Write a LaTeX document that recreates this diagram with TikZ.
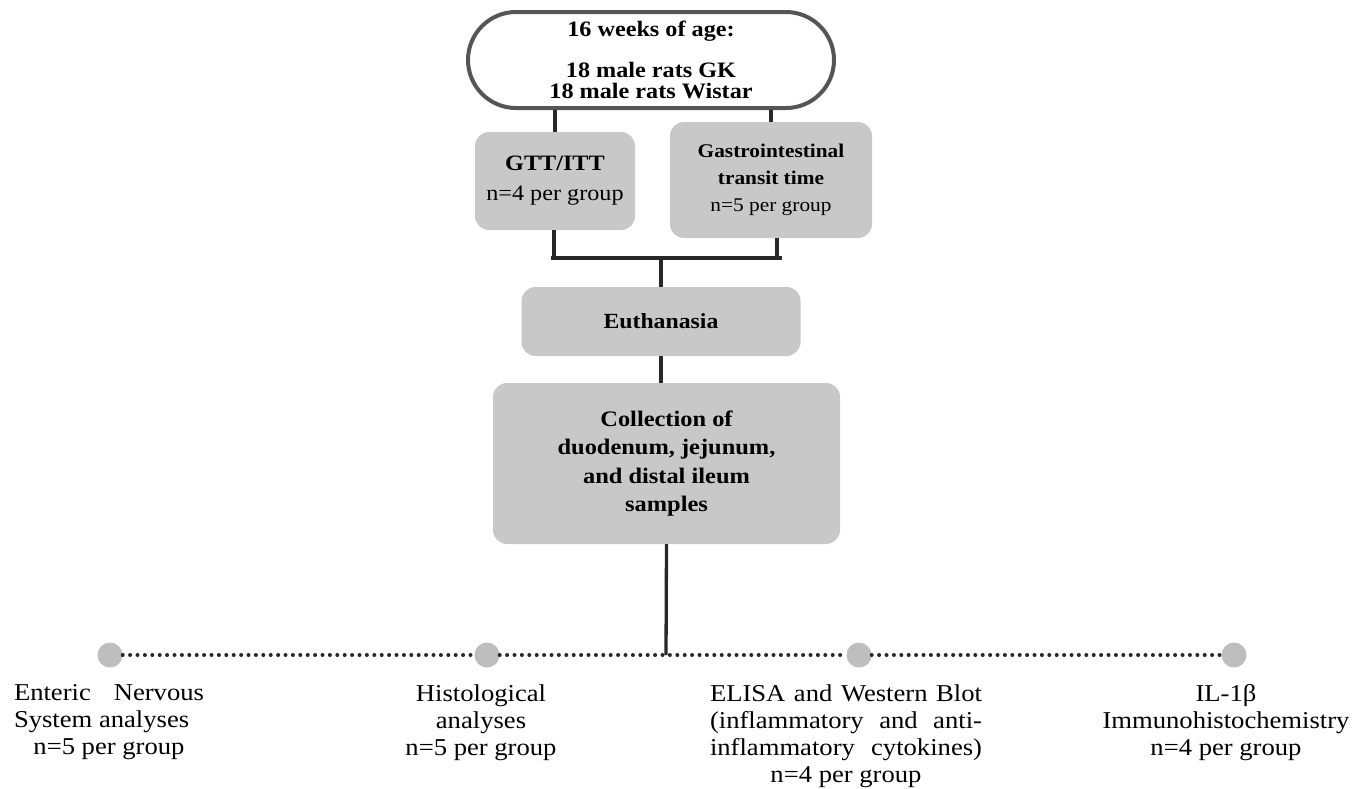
\documentclass[tikz,border=0pt]{standalone}
\usepackage{fontspec}
\setmainfont{Liberation Serif}[FakeStretch=1.1]
\definecolor{boxgray}{RGB}{200,200,200}
\definecolor{dotgray}{RGB}{190,190,190}
\definecolor{linecol}{RGB}{40,40,40}
\definecolor{pillcol}{RGB}{85,85,85}
\begin{document}
\begin{tikzpicture}[x=1pt,y=-1pt,
  gbox/.style={fill=boxgray, rounded corners=14pt, inner sep=0pt, align=center},
  conn/.style={line width=3.3pt, draw=linecol},
  dotline/.style={line width=4pt, draw=linecol, dash pattern=on 0pt off 7.4pt, line cap=round},
  dotnode/.style={circle, fill=dotgray, minimum size=25pt, inner sep=0pt},
  lab/.style={align=center, anchor=north, inner sep=0pt, font=\fontsize{24.2}{27}\selectfont}]
\useasboundingbox (0,0) rectangle (1359,788);
% top pill
\node[draw=pillcol, line width=4pt, rounded corners=48pt, minimum width=366pt, minimum height=96pt, inner sep=0pt, align=center,
  font=\fontsize{22}{21.5}\selectfont\bfseries] (pill) at (651,60)
  {16 weeks of age:\\[19pt]18 male rats GK\\18 male rats Wistar};
% second row
\node[gbox, minimum width=160pt, minimum height=98pt, font=\fontsize{22}{30}\selectfont] (gtt) at (555,181)
  {\textbf{GTT/ITT}\\n=4 per group};
\node[gbox, minimum width=202pt, minimum height=116pt, font=\fontsize{19.4}{27}\selectfont] (git) at (771,180)
  {\textbf{Gastrointestinal}\\\textbf{transit time}\\n=5 per group};
\node[gbox, minimum width=279pt, minimum height=69pt, font=\fontsize{21.6}{24}\selectfont\bfseries] (eut) at (661,321.5)
  {Euthanasia};
\node[gbox, minimum width=347pt, minimum height=161pt, font=\fontsize{22.2}{28.5}\selectfont\bfseries] (col) at (666.5,463.5)
  {Collection of\\duodenum, jejunum,\\and distal ileum\\samples};
% connectors top
\draw[conn] (pill.south -| gtt.north) -- (gtt.north);
\draw[conn] (pill.south -| git.north) -- (git.north);
\coordinate (bl) at (551,258);
\coordinate (br) at (782,258);
\coordinate (bm) at (661,258);
\draw[conn] (554,230) -- (554,258);
\draw[conn] (777,238) -- (777,258);
\draw[conn] (bl) -- (br);
\draw[conn] (bm) -- (eut.north);
\draw[conn] (eut.south) -- (col.north -| eut.south);
% bottom
\node[dotnode] (d1) at (110,655) {};
\node[dotnode] (d2) at (487,655) {};
\node[dotnode] (d3) at (859,655) {};
\node[dotnode] (d4) at (1234,655) {};
\coordinate (jn) at (666,655);
\draw[conn] (col.south) -- (jn);
\draw[dotline] (d1.east) -- (d2.west);
\draw[dotline] (d2.east) -- (d3.west);
\draw[dotline] (d3.east) -- (d4.west);
% labels
\node[lab] (l1) at (109,684)
  {\makebox[190pt][s]{Enteric Nervous}\\\makebox[190pt][l]{System analyses}\\n=5 per group};
\node[lab] (l2) at (481,684)
  {Histological\\analyses\\n=5 per group};
\node[lab] (l3) at (846,684)
  {\makebox[272pt][s]{ELISA and Western Blot}\\\makebox[272pt][s]{(inflammatory and anti-}\\\makebox[272pt][s]{inflammatory cytokines)}\\n=4 per group};
\node[lab] (l4) at (1226,684)
  {IL-1β\\Immunohistochemistry\\n=4 per group};
\end{tikzpicture}
\end{document}
